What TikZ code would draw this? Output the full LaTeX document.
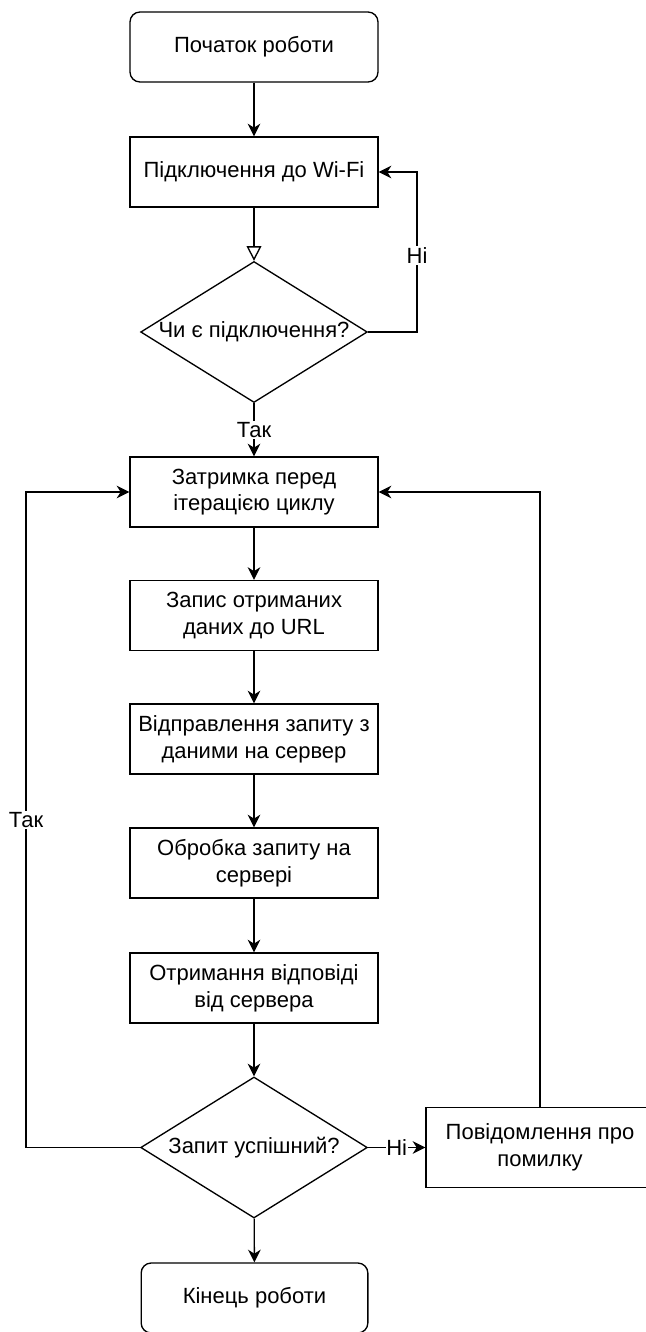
\documentclass[tikz,border=0pt]{standalone}
\usepackage{fontspec}
\setmainfont{Liberation Sans}
\usetikzlibrary{shapes.geometric,arrows.meta}

\begin{document}
\begin{tikzpicture}[x=0.75pt,y=-0.75pt,
		font=\fontsize{16.5}{20}\selectfont,
		block/.style={draw=black,line width=1pt,minimum width=186pt,minimum height=52.5pt,align=center,inner sep=0pt},
		term/.style={block,rounded corners=7.5pt},
		decision/.style={draw=black,line width=1pt,diamond,minimum width=170pt,minimum height=105.75pt,inner sep=0pt},
		arr/.style={line width=1pt,-{Stealth[length=9.5pt,width=9.5pt,inset=3pt]}},
		openarr/.style={line width=1pt,-{Triangle[open,length=11pt,width=11pt]}},
		lbl/.style={fill=white,inner sep=1pt}]
		\useasboundingbox (0,0) rectangle (646,1332);

		\node[term] (start) at (254, 47) {Початок роботи};
		\node[block] (wifi) at (254, 172) {Підключення до Wi-Fi};
		\node[decision] (chk) at (254, 332) {};
		\node (chktxt) at (chk) {Чи є підключення?};
		\node[block] (delay) at (254, 492) {Затримка перед\\ітерацією циклу};
		\node[block] (rec) at (254, 615.5) {Запис отриманих\\даних до URL};
		\node[block] (send) at (254, 739) {Відправлення запиту з\\даними на сервер};
		\node[block] (proc) at (254, 863) {Обробка запиту на\\сервері};
		\node[block] (resp) at (254, 988) {Отримання відповіді\\від сервера};
		\node[decision] (res) at (254, 1147.5) {};
		\node (restxt) at (res) {Запит успішний?};
		\node[block,minimum width=171pt,minimum height=60pt] (err) at (540, 1147.5) {Повідомлення про\\помилку};
		\node[term,minimum width=170pt] (stop) at (254.5, 1298) {Кінець роботи};

		\coordinate (noturn) at (417, 332);
		\coordinate (yesturn) at (26, 1147.5);

		\draw[arr] (start) -- (wifi);
		\draw[openarr] (wifi) -- (chk);
		\draw[arr] (chk.east) -- (noturn) |- node[lbl,pos=0.24] {Ні} (wifi.east);
		\draw[arr] (chk) -- node[lbl] {Так} (delay);
		\draw[arr] (delay) -- (rec);
		\draw[arr] (rec) -- (send);
		\draw[arr] (send) -- (proc);
		\draw[arr] (proc) -- (resp);
		\draw[arr] (resp) -- (res);
		\draw[arr] (res) -- node[lbl,inner sep=0.5pt] {Ні} (err);
		\draw[arr] (res.west) -- (yesturn) |- node[lbl,pos=0.25] {Так} (delay.west);
		\draw[arr] (err.north) |- (delay.east);
		\draw[arr] (res) -- (stop);
\end{tikzpicture}
\end{document}
